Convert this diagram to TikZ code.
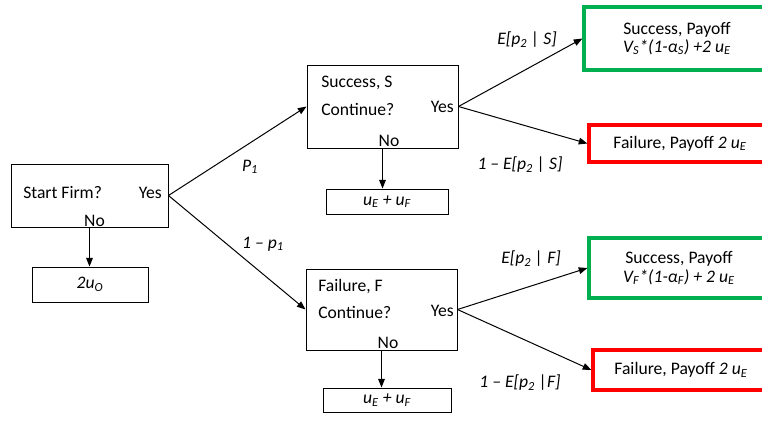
\documentclass[tikz,border=0pt]{standalone}
\usepackage{fontspec}
\setmainfont{Carlito}
\definecolor{wingreen}{HTML}{00B050}
\definecolor{losered}{HTML}{FF0000}
\usetikzlibrary{arrows.meta,positioning}

\begin{document}
\begin{tikzpicture}[
  x=0.75pt, y=-0.75pt,
  font=\fontsize{13.2}{13.8}\selectfont,
  choice/.style={rectangle, draw=black, line width=0.7pt, inner sep=0pt},
  payout/.style={rectangle, draw=black, line width=0.7pt, inner sep=0pt,
    font=\fontsize{13.2}{13.8}\selectfont\itshape},
  winbox/.style={rectangle, draw=wingreen, line width=2.4pt,
    align=center, inner sep=0pt},
  losebox/.style={rectangle, draw=losered, line width=2.4pt,
    align=center, inner sep=0pt},
  txt/.style={inner sep=0pt, anchor=west},
  prob/.style={inner sep=0pt, font=\fontsize{13.2}{13.8}\selectfont\itshape},
  arr/.style={-{Triangle[length=6.5pt,width=5pt]}, line width=0.75pt},
]
  \path[use as bounding box, clip] (0,0) rectangle (762,425);

  % decision boxes
  \node[choice, minimum width=157*0.75pt, minimum height=63*0.75pt] (start) at (89.5,195.5) {};
  \node[choice, minimum width=151*0.75pt, minimum height=83*0.75pt] (sbox) at (382.5,106.5) {};
  \node[choice, minimum width=151*0.75pt, minimum height=81*0.75pt] (fbox) at (381.5,309.5) {};

  % quit payoffs
  \node[payout, minimum width=116*0.75pt, minimum height=35*0.75pt] (quit) at (90,284.5)
    {2u\textsubscript{O}};
  \node[payout, minimum width=122*0.75pt, minimum height=25*0.75pt] (squit) at (387,201.5)
    {u\textsubscript{E} + u\textsubscript{F}};
  \node[payout, minimum width=128*0.75pt, minimum height=24*0.75pt] (fquit) at (387,400)
    {u\textsubscript{E} + u\textsubscript{F}};

  % second round outcomes
  \node[winbox, minimum width=186*0.75pt, minimum height=63*0.75pt] (swin) at (677,38.5)
    {Success, Payoff\\ \itshape V\textsubscript{S}*(1-α\textsubscript{S}) +2 u\textsubscript{E}};
  \node[losebox, minimum width=182*0.75pt, minimum height=37*0.75pt] (slose) at (680,143.5)
    {Failure, Payoff \itshape 2 u\textsubscript{E}};
  \node[winbox, minimum width=180*0.75pt, minimum height=60*0.75pt] (fwin) at (679,268)
    {Success, Payoff\\ \itshape V\textsubscript{F}*(1-α\textsubscript{F}) + 2 u\textsubscript{E}};
  \node[losebox, minimum width=176*0.75pt, minimum height=40*0.75pt] (flose) at (681,370)
    {Failure, Payoff \itshape 2 u\textsubscript{E}};

  % box texts
  \node[txt] (startq) at (23,193) {Start Firm?};
  \node[txt, anchor=east] (startyes) at (162,193) {Yes};
  \node[inner sep=0pt] (startno) at (94.5,221) {No};
  \node[txt] (shead) at (321,83) {Success, S};
  \node[txt] (sq) at (321,109) {Continue?};
  \node[txt, anchor=east] (syes) at (454,107) {Yes};
  \node[inner sep=0pt] (sno) at (389,141) {No};
  \node[txt] (fhead) at (318,287) {Failure, F};
  \node[txt] (fq) at (318,312) {Continue?};
  \node[txt, anchor=east] (fyes) at (454,311) {Yes};
  \node[inner sep=0pt] (fno) at (388,343) {No};

  % branches
  \draw[arr] (start.east) -- (sbox.west);
  \draw[arr] (start.east) -- (fbox.west);
  \draw[arr] (start.south) -- (start.south |- quit.north);
  \draw[arr] (sbox.south) -- (sbox.south |- squit.north);
  \draw[arr] (fbox.south) -- (fbox.south |- fquit.north);
  \draw[arr] (sbox.east) -- (swin.west);
  \draw[arr] (sbox.east) -- (slose.west);
  \draw[arr] (fbox.east) -- (fwin.west);
  \draw[arr] (fbox.east) -- (flose.west);

  % probabilities
  \node[prob] (pone) at (250,167) {P\textsubscript{1}};
  \node[prob] (qone) at (263,244) {1 – p\textsubscript{1}};
  \node[prob] (ps) at (527,40) {E[p\textsubscript{2} | S]};
  \node[prob] (qs) at (520,165) {1 – E[p\textsubscript{2} | S]};
  \node[prob] (pf) at (531,259) {E[p\textsubscript{2} | F]};
  \node[prob] (qf) at (520,383) {1 – E[p\textsubscript{2} |F]};
\end{tikzpicture}
\end{document}
